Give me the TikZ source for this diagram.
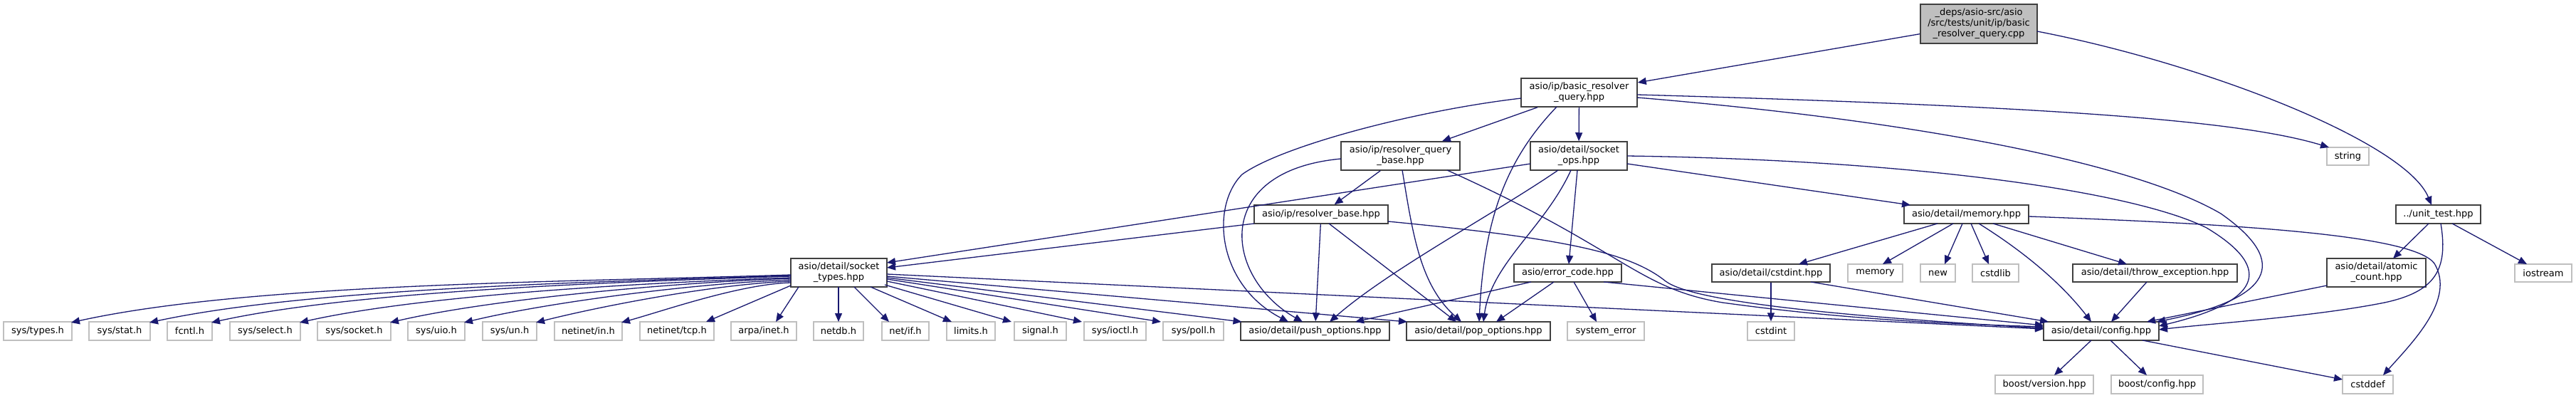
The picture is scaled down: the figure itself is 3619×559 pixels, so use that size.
\documentclass[tikz,border=0pt]{standalone}
\usepackage{fontspec}
\setmainfont{DejaVu Sans}
\usetikzlibrary{arrows.meta,calc}
\definecolor{edgec}{HTML}{191970}
\definecolor{darkb}{HTML}{404040}
\definecolor{lightb}{HTML}{BFBFBF}
\tikzset{
  fnode/.style={rectangle, inner sep=0pt, align=center, font=\fontsize{13pt}{15pt}\selectfont, text=black},
  hdr/.style={fnode, draw=darkb, fill=white, line width=1.5pt},
  sysn/.style={fnode, draw=lightb, fill=white, line width=1.3pt},
  rootn/.style={fnode, draw=darkb, fill=lightb, line width=1.5pt},
  dep/.style={draw=edgec, line width=1.3pt, -{Triangle[length=12pt,width=10pt]}},
}
\begin{document}
\begin{tikzpicture}[x=1pt,y=-1pt]
\fill[white] (0,0) rectangle (3619,559);
\useasboundingbox (0,0) rectangle (3619,559);
% ---- nodes ----
\node[rootn,minimum width=164pt,minimum height=55pt] (root) at (2780,33.5) {\_deps/asio-src/asio\\/src/tests/unit/ip/basic\\\_resolver\_query.cpp};
\node[hdr,minimum width=163pt,minimum height=40pt] (brq) at (2218.5,130) {asio/ip/basic\_resolver\\\_query.hpp};
\node[hdr,minimum width=167pt,minimum height=40pt] (rqb) at (1967.5,219) {asio/ip/resolver\_query\\\_base.hpp};
\node[hdr,minimum width=136pt,minimum height=40pt] (sops) at (2218,219) {asio/detail/socket\\\_ops.hpp};
\node[sysn,minimum width=59pt,minimum height=25pt] (str) at (3298.5,219.5) {string};
\node[hdr,minimum width=188pt,minimum height=26pt] (rb) at (1856,301) {asio/ip/resolver\_base.hpp};
\node[hdr,minimum width=175pt,minimum height=26pt] (mem) at (2762.5,301) {asio/detail/memory.hpp};
\node[hdr,minimum width=119pt,minimum height=26pt] (ut) at (3425.5,301) {../unit\_test.hpp};
\node[hdr,minimum width=135pt,minimum height=40pt] (st) at (1178.5,383) {asio/detail/socket\\\_types.hpp};
\node[hdr,minimum width=151pt,minimum height=25pt] (ec) at (2202.5,383.5) {asio/error\_code.hpp};
\node[hdr,minimum width=166pt,minimum height=25pt] (cdint) at (2488,383.5) {asio/detail/cstdint.hpp};
\node[sysn,minimum width=77pt,minimum height=25pt] (memstd) at (2634.5,383.5) {memory};
\node[sysn,minimum width=49pt,minimum height=25pt] (new) at (2722.5,383.5) {new};
\node[sysn,minimum width=65pt,minimum height=25pt] (cstdlib) at (2803.5,383.5) {cstdlib};
\node[hdr,minimum width=231pt,minimum height=25pt] (te) at (3027.5,383.5) {asio/detail/throw\_exception.hpp};
\node[hdr,minimum width=139pt,minimum height=40pt] (ac) at (3338.5,383) {asio/detail/atomic\\\_count.hpp};
\node[sysn,minimum width=80pt,minimum height=25pt] (ios) at (3573,383.5) {iostream};
% bottom row
\node[sysn,minimum width=96pt,minimum height=26pt] (ntypes) at (53,465) {sys/types.h};
\node[sysn,minimum width=86pt,minimum height=26pt] (nstat) at (168,465) {sys/stat.h};
\node[sysn,minimum width=63pt,minimum height=26pt] (nfcntl) at (266.5,465) {fcntl.h};
\node[sysn,minimum width=99pt,minimum height=26pt] (nselect) at (372.5,465) {sys/select.h};
\node[sysn,minimum width=103pt,minimum height=26pt] (nsocket) at (497.5,465) {sys/socket.h};
\node[sysn,minimum width=80pt,minimum height=26pt] (nuio) at (613,465) {sys/uio.h};
\node[sysn,minimum width=76pt,minimum height=26pt] (nun) at (716,465) {sys/un.h};
\node[sysn,minimum width=95pt,minimum height=26pt] (nnetin) at (826.5,465) {netinet/in.h};
\node[sysn,minimum width=104pt,minimum height=26pt] (ntcp) at (951,465) {netinet/tcp.h};
\node[sysn,minimum width=92pt,minimum height=26pt] (narpa) at (1073,465) {arpa/inet.h};
\node[sysn,minimum width=70pt,minimum height=26pt] (nnetdb) at (1178,465) {netdb.h};
\node[sysn,minimum width=66pt,minimum height=26pt] (nnetif) at (1272,465) {net/if.h};
\node[sysn,minimum width=68pt,minimum height=26pt] (nlimits) at (1364,465) {limits.h};
\node[sysn,minimum width=73pt,minimum height=26pt] (nsignal) at (1461.5,465) {signal.h};
\node[sysn,minimum width=87pt,minimum height=26pt] (nioctl) at (1566.5,465) {sys/ioctl.h};
\node[sysn,minimum width=85pt,minimum height=26pt] (npoll) at (1676.5,465) {sys/poll.h};
\node[hdr,minimum width=209pt,minimum height=26pt] (push) at (1847.5,465) {asio/detail/push\_options.hpp};
\node[hdr,minimum width=202pt,minimum height=26pt] (pop) at (2077,465) {asio/detail/pop\_options.hpp};
\node[sysn,minimum width=108pt,minimum height=26pt] (syserr) at (2256,465) {system\_error};
\node[sysn,minimum width=66pt,minimum height=26pt] (cstdint) at (2488,465) {cstdint};
\node[hdr,minimum width=162pt,minimum height=26pt] (config) at (2952,465) {asio/detail/config.hpp};
\node[sysn,minimum width=138pt,minimum height=26pt] (bv) at (2872,540) {boost/version.hpp};
\node[sysn,minimum width=129pt,minimum height=26pt] (bc) at (3030.5,540) {boost/config.hpp};
\node[sysn,minimum width=71pt,minimum height=26pt] (cstddef) at (3326.5,540) {cstddef};
% ---- edges ----
\draw[dep] (root) -- (brq);
\draw[dep] ($(root)+(82,10.5)$) .. controls (3100,90) and (3380,200) .. ($(ut)+(-9.5,-13)$);
\draw[dep] (brq) -- (rqb);
\draw[dep] (brq) -- (sops);
\draw[dep] ($(brq)+(-81.5,8)$) .. controls (1990,155) and (1800,205) .. (1745,245) .. controls (1700,290) and (1710,400) .. ($(push)+(-37.5,-13)$);
\draw[dep] ($(brq)+(-31.5,20)$) .. controls (2120,220) and (2085,300) .. ($(pop)+(1,-13)$);
\draw[dep] ($(brq)+(81.5,3)$) .. controls (2900,150) and (3150,170) .. ($(str)+(-26.5,-12.5)$);
\draw[dep] ($(brq)+(81.5,7)$) .. controls (2700,170) and (3000,230) .. (3120,300) .. controls (3220,370) and (3190,420) .. ($(config)+(78,-13)$);
\draw[dep] (rqb) -- (rb);
\draw[dep] ($(rqb)+(-83.5,4)$) .. controls (1700,240) and (1720,390) .. ($(push)+(-17.5,-13)$);
\draw[dep] ($(rqb)+(2.5,20)$) .. controls (1985,330) and (1995,400) .. ($(pop)+(-24,-13)$);
\draw[dep] ($(rqb)+(65.5,20)$) .. controls (2280,350) and (2300,405) .. (2420,425) .. controls (2600,450) and (2750,455) .. ($(config)+(-81,-6)$);
\draw[dep] ($(sops)+(-68,11)$) -- ($(st)+(67.5,-14)$);
\draw[dep] ($(sops)+(-29,20)$) .. controls (2100,300) and (1950,380) .. ($(push)+(20.5,-13)$);
\draw[dep] ($(sops)+(-11,20)$) .. controls (2170,320) and (2095,370) .. ($(pop)+(7,-13)$);
\draw[dep] ($(sops)+(-2,20)$) -- ($(ec)+(1.5,-12.5)$);
\draw[dep] ($(sops)+(68,11)$) -- ($(mem)+(-78.5,-13)$);
\draw[dep] ($(sops)+(68,0)$) .. controls (2700,225) and (3000,270) .. (3100,320) .. controls (3200,380) and (3170,425) .. ($(config)+(81,-7)$);
\draw[dep] ($(rb)+(-94,13)$) -- ($(st)+(67.5,-7)$);
\draw[dep] (rb) -- (push);
\draw[dep] ($(rb)+(11,13)$) -- ($(pop)+(-31,-13)$);
\draw[dep] ($(rb)+(94,10)$) .. controls (2200,335) and (2290,355) .. (2340,395) .. controls (2380,425) and (2600,445) .. ($(config)+(-81,-4)$);
% socket_types fan
\draw[dep] ($(st)+(-67.5,3)$) .. controls (808,396) and (353,397) .. ($(ntypes)+(47,-12)$);
\draw[dep] ($(st)+(-67.5,4)$) .. controls (842,396) and (438,404) .. ($(nstat)+(42,-12)$);
\draw[dep] ($(st)+(-67.5,5)$) .. controls (867,396) and (502,408) .. ($(nfcntl)+(30.5,-12)$);
\draw[dep] ($(st)+(-67.5,7)$) .. controls (905,397) and (595,414) .. ($(nselect)+(48.5,-12)$);
\draw[dep] ($(st)+(-67.5,8)$) .. controls (943,397) and (690,420) .. ($(nsocket)+(50.5,-12)$);
\draw[dep] ($(st)+(-67.5,10)$) .. controls (974,398) and (768,425) .. ($(nuio)+(39,-12)$);
\draw[dep] ($(st)+(-67.5,12)$) .. controls (1004,399) and (844,430) .. ($(nun)+(37,-12)$);
\draw[dep] ($(st)+(-67.5,14)$) .. controls (1040,399) and (934,436) .. ($(nnetin)+(46.5,-12)$);
\draw[dep] ($(st)+(-67.5,18)$) -- ($(ntcp)+(41,-13)$);
\draw[dep] ($(st)+(-56.5,20)$) -- ($(narpa)+(17,-13)$);
\draw[dep] ($(st)+(-0.5,20)$) -- ($(nnetdb)+(0,-13)$);
\draw[dep] ($(st)+(21.5,20)$) -- ($(nnetif)+(-23,-13)$);
\draw[dep] ($(st)+(44.5,20)$) -- ($(nlimits)+(-27,-13)$);
\draw[dep] ($(st)+(64.5,17)$) -- ($(nsignal)+(-40.5,-13)$);
\draw[dep] ($(st)+(67.5,12)$) -- ($(nioctl)+(-46.5,-13)$);
\draw[dep] ($(st)+(67.5,9)$) -- ($(npoll)+(-45.5,-13)$);
\draw[dep] ($(st)+(67.5,7)$) -- ($(push)+(-103,-13)$);
\draw[dep] ($(st)+(67.5,5)$) -- ($(pop)+(-100,-13)$);
\draw[dep] ($(st)+(67.5,2)$) -- ($(config)+(-81,-3)$);
% error_code
\draw[dep] ($(ec)+(-51.5,12.5)$) -- ($(push)+(56.5,-13)$);
\draw[dep] ($(ec)+(-19.5,12.5)$) -- ($(pop)+(25,-13)$);
\draw[dep] ($(ec)+(8.5,12.5)$) -- ($(syserr)+(-13,-13)$);
\draw[dep] ($(ec)+(50.5,12.5)$) -- ($(config)+(-81,-8)$);
% cstdint.hpp
\draw[dep] (cdint) -- (cstdint);
\draw[dep] ($(cdint)+(56,12.5)$) -- ($(config)+(-74,-13)$);
% memory.hpp
\draw[dep] ($(mem)+(-40.5,13)$) -- ($(cdint)+(39,-12.5)$);
\draw[dep] ($(mem)+(-18.5,13)$) -- ($(memstd)+(10.5,-12.5)$);
\draw[dep] ($(mem)+(-5.5,13)$) -- ($(new)+(9.5,-12.5)$);
\draw[dep] ($(mem)+(6.5,13)$) -- ($(cstdlib)+(-9.5,-12.5)$);
\draw[dep] ($(mem)+(37.5,13)$) -- ($(te)+(-39.5,-12.5)$);
\draw[dep] ($(mem)+(17.5,13)$) .. controls (2830,345) and (2890,390) .. ($(config)+(-14,-13)$);
\draw[dep] ($(mem)+(87.5,3)$) .. controls (3150,315) and (3390,330) .. (3420,370) .. controls (3450,420) and (3390,480) .. ($(cstddef)+(21.5,-13)$);
\draw[dep] ($(te)+(-11.5,12.5)$) -- ($(config)+(14,-13)$);
% unit_test
\draw[dep] ($(ut)+(-13.5,13)$) -- ($(ac)+(23.5,-20)$);
\draw[dep] ($(ut)+(19.5,13)$) -- ($(ios)+(-23,-12.5)$);
\draw[dep] ($(ut)+(3.5,13)$) .. controls (3440,380) and (3420,410) .. (3350,425) .. controls (3250,445) and (3100,455) .. ($(config)+(81,-2)$);
\draw[dep] ($(ac)+(-69.5,18)$) -- ($(config)+(64,-13)$);
% config
\draw[dep] ($(config)+(-14,13)$) -- ($(bv)+(14,-13)$);
\draw[dep] ($(config)+(13,13)$) -- ($(bc)+(-14.5,-13)$);
\draw[dep] ($(config)+(58,13)$) -- ($(cstddef)+(-35.5,-7)$);
\end{tikzpicture}
\end{document}
